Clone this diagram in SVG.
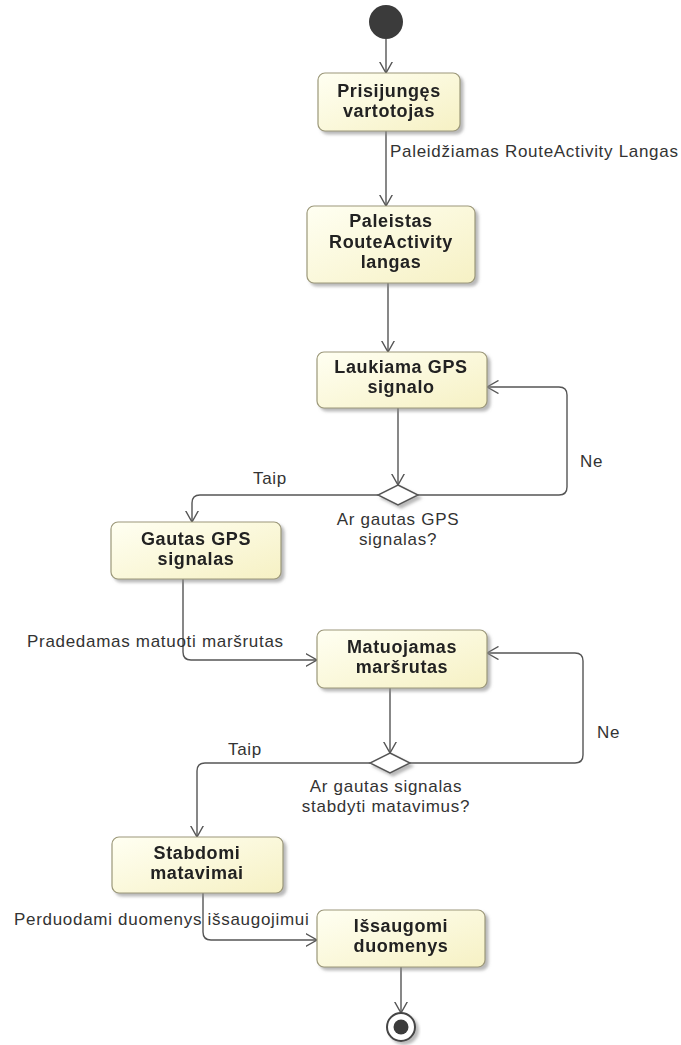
<svg xmlns="http://www.w3.org/2000/svg" width="681" height="1045" viewBox="0 0 681 1045">
  <style>
    .act { fill: url(#actFill); stroke: #9c987a; stroke-width: 1.2; }
    .name { font-family: "Liberation Sans", Arial, sans-serif; font-size: 18px; font-weight: bold; letter-spacing: 0.6px; fill: #222; text-anchor: middle; }
    .lbl { font-family: "Liberation Sans", Arial, sans-serif; font-size: 17px; letter-spacing: 0.7px; fill: #333; }
    .mid { text-anchor: middle; }
    .flow { fill: none; stroke: #555; stroke-width: 1.4; marker-end: url(#open); }
    .dec { fill: #fff; stroke: #555; stroke-width: 1.4; }
  </style>
  <defs>
    <linearGradient id="actFill" x1="0" y1="0" x2="1" y2="1">
      <stop offset="0" stop-color="#fffff2"/>
      <stop offset="1" stop-color="#f6f1c4"/>
    </linearGradient>
    <filter id="shadow" x="-10%" y="-10%" width="130%" height="140%">
      <feDropShadow dx="3" dy="3" stdDeviation="1.6" flood-color="#8a8a8a" flood-opacity="0.6"/>
    </filter>
    <marker id="open" viewBox="0 0 12 14" refX="11.5" refY="7" markerWidth="12" markerHeight="14" markerUnits="userSpaceOnUse" orient="auto">
      <path d="M0,0.5 L11.5,7 L0,13.5" fill="none" stroke="#555" stroke-width="1.4"/>
    </marker>
  </defs>

  <rect width="681" height="1045" fill="#fff"/>

  <!-- control flows -->
  <g id="connectors">
    <path class="flow" d="M386,39 V73"/>
    <path class="flow" d="M386,131 V206"/>
    <path class="flow" d="M388,283 V352"/>
    <path class="flow" d="M398,408 V485"/>
    <path class="flow" d="M418,495 H559 Q567,495 567,487 V395 Q567,387 559,387 H487"/>
    <path class="flow" d="M378,495 H200 Q192,495 192,503 V522"/>
    <path class="flow" d="M183,579 V652 Q183,660 191,660 H317"/>
    <path class="flow" d="M390,688 V753"/>
    <path class="flow" d="M410,763 H575 Q583,763 583,755 V661 Q583,653 575,653 H487"/>
    <path class="flow" d="M370,763 H205 Q197,763 197,771 V837"/>
    <path class="flow" d="M203,893 V932 Q203,940 211,940 H317"/>
    <path class="flow" d="M401,967 V1013"/>
    <text class="lbl" x="390" y="157">Paleidžiamas RouteActivity Langas</text>
    <text class="lbl" x="580" y="467">Ne</text>
    <text class="lbl" x="253" y="484">Taip</text>
    <text class="lbl" x="27" y="647">Pradedamas matuoti maršrutas</text>
    <text class="lbl" x="597" y="738">Ne</text>
    <text class="lbl" x="228" y="755">Taip</text>
    <text class="lbl" x="14" y="925">Perduodami duomenys išsaugojimui</text>
  </g>

  <g id="start">
    <circle cx="386" cy="22" r="17" fill="#3b3b3b"/>
  </g>

  <g id="prisijunges" filter="url(#shadow)">
    <rect class="act" x="318" y="73" width="142" height="58" rx="7"/>
    <text class="name" x="389" y="97">Prisijungęs</text>
    <text class="name" x="389" y="117">vartotojas</text>
  </g>

  <g id="paleistas" filter="url(#shadow)">
    <rect class="act" x="307" y="206" width="168" height="77" rx="7"/>
    <text class="name" x="391" y="227">Paleistas</text>
    <text class="name" x="391" y="247.5">RouteActivity</text>
    <text class="name" x="391" y="268">langas</text>
  </g>

  <g id="laukiama" filter="url(#shadow)">
    <rect class="act" x="317" y="352" width="170" height="56" rx="7"/>
    <text class="name" x="401" y="373">Laukiama GPS</text>
    <text class="name" x="401" y="393">signalo</text>
  </g>

  <g id="gps-decision">
    <polygon class="dec" points="398,485 418,495 398,505 378,495" filter="url(#shadow)"/>
    <text class="lbl mid" x="398" y="525">Ar gautas GPS</text>
    <text class="lbl mid" x="398" y="545">signalas?</text>
  </g>

  <g id="gautas" filter="url(#shadow)">
    <rect class="act" x="111" y="522" width="170" height="57" rx="7"/>
    <text class="name" x="196" y="544.5">Gautas GPS</text>
    <text class="name" x="196" y="564.5">signalas</text>
  </g>

  <g id="matuojamas" filter="url(#shadow)">
    <rect class="act" x="317" y="630" width="170" height="58" rx="7"/>
    <text class="name" x="402" y="653">Matuojamas</text>
    <text class="name" x="402" y="673">maršrutas</text>
  </g>

  <g id="stop-decision">
    <polygon class="dec" points="390,753 410,763 390,773 370,763" filter="url(#shadow)"/>
    <text class="lbl mid" x="386" y="792">Ar gautas signalas</text>
    <text class="lbl mid" x="386" y="812">stabdyti matavimus?</text>
  </g>

  <g id="stabdomi" filter="url(#shadow)">
    <rect class="act" x="112" y="837" width="171" height="56" rx="7"/>
    <text class="name" x="197" y="859">Stabdomi</text>
    <text class="name" x="197" y="879">matavimai</text>
  </g>

  <g id="issaugomi" filter="url(#shadow)">
    <rect class="act" x="317" y="910" width="168" height="57" rx="7"/>
    <text class="name" x="401" y="932">Išsaugomi</text>
    <text class="name" x="401" y="952">duomenys</text>
  </g>

  <g id="end" filter="url(#shadow)">
    <circle cx="401" cy="1027" r="14" fill="#fff" stroke="#444" stroke-width="2"/>
    <circle cx="401" cy="1027" r="7.5" fill="#3b3b3b"/>
  </g>
</svg>
